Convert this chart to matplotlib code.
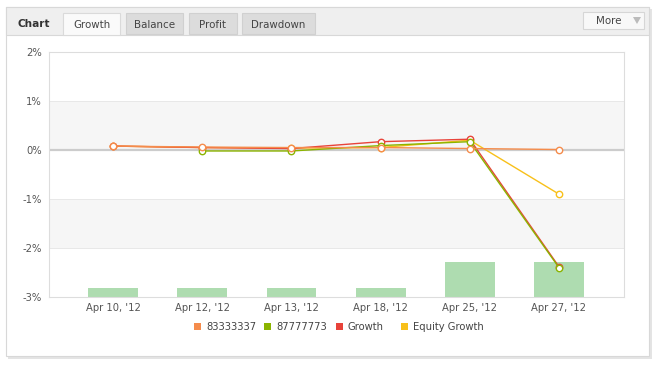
import matplotlib
matplotlib.use("Agg")
import matplotlib.pyplot as plt
from matplotlib.patches import Rectangle, Polygon
import numpy as np

plt.rcParams['font.family'] = ['DejaVu Sans']

categories = ["Apr 10, '12", "Apr 12, '12", "Apr 13, '12", "Apr 18, '12", "Apr 25, '12", "Apr 27, '12"]
series_names = ["83333337", "87777773", "Growth", "Equity Growth"]
s_83333337 = [0.08, 0.06, 0.05, 0.05, 0.03, 0.01]
s_87777773 = [None, -0.02, -0.02, 0.09, 0.17, -2.40]
s_growth = [0.08, 0.05, 0.03, 0.17, 0.22, -2.38]
s_equity = [0.08, 0.05, 0.04, 0.05, 0.20, -0.90]
bar_values = [0.18, 0.18, 0.18, 0.18, 0.71, 0.71]
y_ticks = [2, 1, 0, -1, -2, -3]
y_tick_labels = ["2%", "1%", "0%", "-1%", "-2%", "-3%"]
tabs = ["Growth", "Balance", "Profit", "Drawdown"]

colors = {"83333337": "#f58c4c", "87777773": "#8bb400", "Growth": "#e8433a", "Equity Growth": "#f8c01a"}

W, H = 658, 368
fig = plt.figure(figsize=(W / 100, H / 100), dpi=100)
fig.patch.set_facecolor("white")

# background / chrome axes in pixel coordinates
bg = fig.add_axes([0, 0, 1, 1], zorder=0)
bg.set_xlim(0, W)
bg.set_ylim(H, 0)
bg.axis("off")

# shadow
bg.add_patch(Rectangle((8, 9), 644, 350, facecolor="#e4e4e4", edgecolor="none"))
# outer box
bg.add_patch(Rectangle((6, 7), 643, 349, facecolor="white", edgecolor="#d8d8d8", lw=0.8))
# header bar
bg.add_patch(Rectangle((6, 7), 643, 27.5, facecolor="#efefef", edgecolor="#d8d8d8", lw=0.8))
bg.text(18, 24, "Chart", fontsize=7.6, fontweight="bold", color="#333333", va="center", ha="left")

tab_x = [(63, 120), (126, 183), (189, 237), (242, 315)]
for i, (name, (x0, x1)) in enumerate(zip(tabs, tab_x)):
    if i == 0:
        bg.add_patch(Rectangle((x0, 13), x1 - x0, 22, facecolor="#fafafa", edgecolor="#dadada", lw=0.8))
    else:
        bg.add_patch(Rectangle((x0, 13), x1 - x0, 21, facecolor="#dcdcdc", edgecolor="#d0d0d0", lw=0.8))
    bg.text((x0 + x1) / 2, 24.5, name, fontsize=7.4, color="#444444", va="center", ha="center")

# More button
bg.add_patch(Rectangle((583, 12), 61, 17, facecolor="#f8f8f8", edgecolor="#d6d6d6", lw=0.8))
bg.text(609, 20.5, "More", fontsize=7.4, color="#444444", va="center", ha="center")
bg.add_patch(Polygon([[633, 17], [641, 17], [637, 24]], closed=True, facecolor="#bbbbbb", edgecolor="none"))

# legend
leg_sq_x = [197, 267, 339, 404]
for name, sx in zip(series_names, leg_sq_x):
    bg.add_patch(Rectangle((sx - 3.5, 322.5), 7, 7, facecolor=colors[name], edgecolor="none"))
    bg.text(sx + 9, 326.5, name, fontsize=7.2, color="#444444", va="center", ha="left")

# main axes
left, right, top, bottom = 49, 624, 52, 297
ax = fig.add_axes([left / W, (H - bottom) / H, (right - left) / W, (bottom - top) / H], zorder=1)
ax.set_facecolor("white")
x = np.arange(len(categories))
ax.set_xlim(-0.72, len(categories) - 1 + 0.73)
ax.set_ylim(-3, 2)

# alternating bands
ax.axhspan(0, 1, color="#f6f6f6", zorder=0, lw=0)
ax.axhspan(-2, -1, color="#f6f6f6", zorder=0, lw=0)
for yv in y_ticks:
    ax.axhline(yv, color="#e8e8e8", lw=0.7, zorder=0.5)

# bars
ax.bar(x, bar_values, bottom=-3, width=0.56, color="#aedcb0", zorder=1)

# zero line
ax.axhline(0, color="#cccccc", lw=1.6, zorder=1.5)

def plot_series(vals, color, z):
    xs = [xi for xi, v in zip(x, vals) if v is not None]
    ys = [v for v in vals if v is not None]
    ax.plot(xs, ys, color=color, lw=1.0, marker="o", markersize=4.6,
            markerfacecolor="white", markeredgecolor=color, markeredgewidth=1.0, zorder=z)

plot_series(s_equity, colors["Equity Growth"], 2)
plot_series(s_growth, colors["Growth"], 3)
plot_series(s_87777773, colors["87777773"], 4)
plot_series(s_83333337, colors["83333337"], 5)

ax.set_yticks(y_ticks)
ax.set_yticklabels(y_tick_labels)
ax.set_xticks(x)
ax.set_xticklabels(categories)
ax.tick_params(axis="both", length=0, labelsize=7.2, labelcolor="#555555")
ax.tick_params(axis="y", pad=5)
ax.tick_params(axis="x", pad=4)
for sp in ax.spines.values():
    sp.set_color("#dddddd")
    sp.set_linewidth(0.8)

fig.savefig("out.png", dpi=100)
